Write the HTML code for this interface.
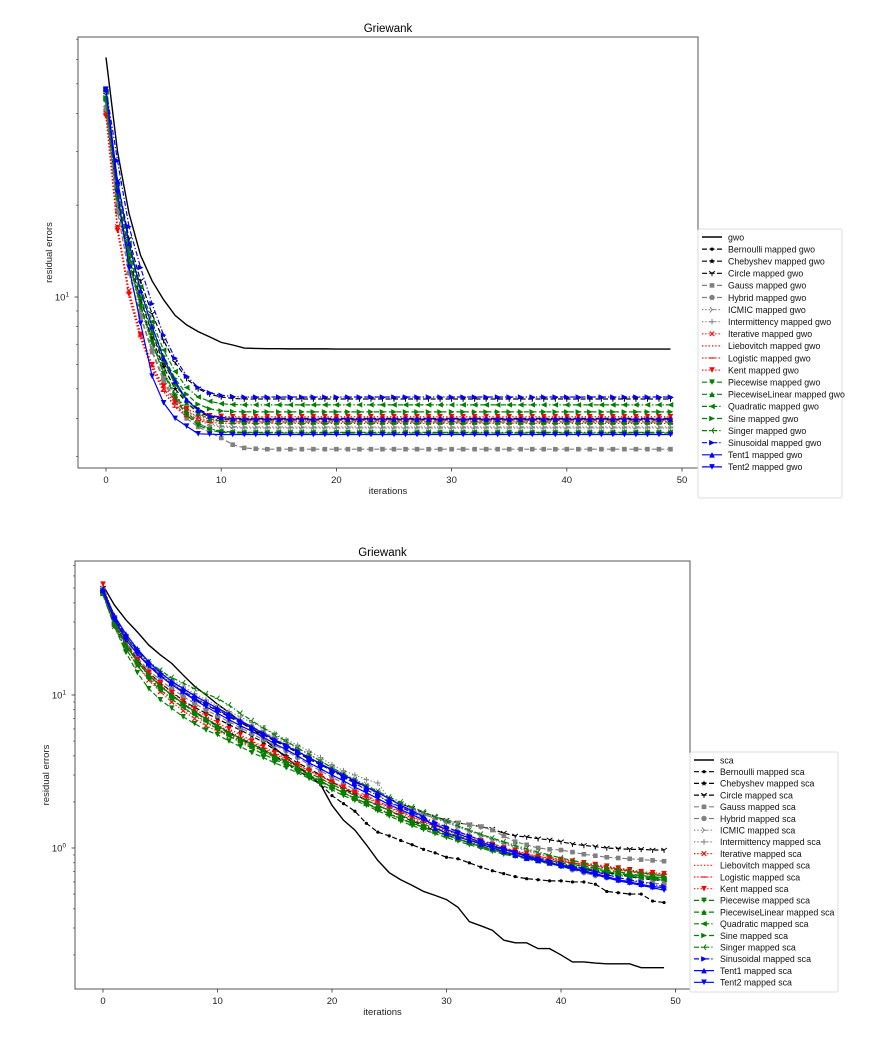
<!DOCTYPE html>
<html><head><meta charset="utf-8"><style>
html,body{margin:0;padding:0;background:#fff;}
svg{display:block;font-family:"Liberation Sans","DejaVu Sans",sans-serif;}
</style></head><body>
<svg id="fig" width="876" height="1048" viewBox="0 0 876 1048" xmlns="http://www.w3.org/2000/svg"></svg>
<script>
// ---------- shared data ----------
const iterations = Array.from({length:50},(_,i)=>i);
const seriesNames = ["Bernoulli","Chebyshev","Circle","Gauss","Hybrid","ICMIC","Intermittency","Iterative","Liebovitch","Logistic","Kent","Piecewise","PiecewiseLinear","Quadratic","Sine","Singer","Sinusoidal","Tent1","Tent2"];
const xTicks = [0,10,20,30,40,50];

// ---------- top chart (GWO) ----------
const gwoBase = [61,30,18.8,13.7,11.3,9.8,8.7,8.1,7.7,7.4,7.1,6.96,6.8,6.78,6.77,6.77,6.76,6.76,6.76,6.76,6.75,6.75,6.75,6.75,6.75,6.75,6.75,6.75,6.75,6.75,6.75,6.75,6.75,6.75,6.75,6.75,6.75,6.75,6.75,6.75,6.75,6.75,6.75,6.75,6.75,6.75,6.75,6.75,6.75,6.75];
const gwoBernoulli = [44,21,13.5,9.8,7.6,6.1,5.2,4.6,4.3,4.1,4.03,4,4,4,4,4,4,4,4,4,4,4,4,4,4,4,4,4,4,4,4,4,4,4,4,4,4,4,4,4,4,4,4,4,4,4,4,4,4,4];
const gwoChebyshev = [42,20,13,9.4,7.3,5.9,5,4.5,4.2,4.05,3.98,3.95,3.95,3.95,3.95,3.95,3.95,3.95,3.95,3.95,3.95,3.95,3.95,3.95,3.95,3.95,3.95,3.95,3.95,3.95,3.95,3.95,3.95,3.95,3.95,3.95,3.95,3.95,3.95,3.95,3.95,3.95,3.95,3.95,3.95,3.95,3.95,3.95,3.95,3.95];
const gwoCircle = [46,24,15.5,11.3,8.8,7.2,6.1,5.4,5,4.8,4.7,4.65,4.63,4.63,4.63,4.63,4.63,4.63,4.63,4.63,4.63,4.63,4.63,4.63,4.63,4.63,4.63,4.63,4.63,4.63,4.63,4.63,4.63,4.63,4.63,4.63,4.63,4.63,4.63,4.63,4.63,4.63,4.63,4.63,4.63,4.63,4.63,4.63,4.63,4.63];
const gwoGauss = [41,19,12,8.6,6.6,5.3,4.5,4,3.75,3.6,3.45,3.28,3.2,3.18,3.17,3.17,3.17,3.17,3.17,3.17,3.17,3.17,3.17,3.17,3.17,3.17,3.17,3.17,3.17,3.17,3.17,3.17,3.17,3.17,3.17,3.17,3.17,3.17,3.17,3.17,3.17,3.17,3.17,3.17,3.17,3.17,3.17,3.17,3.17,3.17];
const gwoHybrid = [41,19,12,8.7,6.7,5.4,4.6,4.1,3.85,3.7,3.62,3.59,3.58,3.58,3.58,3.58,3.58,3.58,3.58,3.58,3.58,3.58,3.58,3.58,3.58,3.58,3.58,3.58,3.58,3.58,3.58,3.58,3.58,3.58,3.58,3.58,3.58,3.58,3.58,3.58,3.58,3.58,3.58,3.58,3.58,3.58,3.58,3.58,3.58,3.58];
const gwoICMIC = [43,20.5,13,9.3,7.1,5.7,4.8,4.3,4,3.85,3.78,3.76,3.75,3.75,3.75,3.75,3.75,3.75,3.75,3.75,3.75,3.75,3.75,3.75,3.75,3.75,3.75,3.75,3.75,3.75,3.75,3.75,3.75,3.75,3.75,3.75,3.75,3.75,3.75,3.75,3.75,3.75,3.75,3.75,3.75,3.75,3.75,3.75,3.75,3.75];
const gwoIntermittency = [42,20,12.8,9.1,7,5.6,4.7,4.2,3.95,3.8,3.75,3.73,3.72,3.72,3.72,3.72,3.72,3.72,3.72,3.72,3.72,3.72,3.72,3.72,3.72,3.72,3.72,3.72,3.72,3.72,3.72,3.72,3.72,3.72,3.72,3.72,3.72,3.72,3.72,3.72,3.72,3.72,3.72,3.72,3.72,3.72,3.72,3.72,3.72,3.72];
const gwoIterative = [40,17,10.5,7.6,6,5,4.5,4.2,4.05,3.98,3.96,3.95,3.95,3.95,3.95,3.95,3.95,3.95,3.95,3.95,3.95,3.95,3.95,3.95,3.95,3.95,3.95,3.95,3.95,3.95,3.95,3.95,3.95,3.95,3.95,3.95,3.95,3.95,3.95,3.95,3.95,3.95,3.95,3.95,3.95,3.95,3.95,3.95,3.95,3.95];
const gwoLiebovitch = [39,16.5,10,7.3,5.8,4.9,4.4,4.1,3.98,3.93,3.91,3.9,3.9,3.9,3.9,3.9,3.9,3.9,3.9,3.9,3.9,3.9,3.9,3.9,3.9,3.9,3.9,3.9,3.9,3.9,3.9,3.9,3.9,3.9,3.9,3.9,3.9,3.9,3.9,3.9,3.9,3.9,3.9,3.9,3.9,3.9,3.9,3.9,3.9,3.9];
const gwoLogistic = [40,17,10.3,7.4,5.9,4.9,4.35,4.05,3.93,3.88,3.86,3.85,3.85,3.85,3.85,3.85,3.85,3.85,3.85,3.85,3.85,3.85,3.85,3.85,3.85,3.85,3.85,3.85,3.85,3.85,3.85,3.85,3.85,3.85,3.85,3.85,3.85,3.85,3.85,3.85,3.85,3.85,3.85,3.85,3.85,3.85,3.85,3.85,3.85,3.85];
const gwoKent = [39,16.5,10.2,7.5,6,5.1,4.6,4.3,4.15,4.08,4.06,4.05,4.05,4.05,4.05,4.05,4.05,4.05,4.05,4.05,4.05,4.05,4.05,4.05,4.05,4.05,4.05,4.05,4.05,4.05,4.05,4.05,4.05,4.05,4.05,4.05,4.05,4.05,4.05,4.05,4.05,4.05,4.05,4.05,4.05,4.05,4.05,4.05,4.05,4.05];
const gwoPiecewise = [44,21,13,9.3,7.1,5.6,4.7,4.1,3.8,3.66,3.6,3.58,3.58,3.58,3.58,3.58,3.58,3.58,3.58,3.58,3.58,3.58,3.58,3.58,3.58,3.58,3.58,3.58,3.58,3.58,3.58,3.58,3.58,3.58,3.58,3.58,3.58,3.58,3.58,3.58,3.58,3.58,3.58,3.58,3.58,3.58,3.58,3.58,3.58,3.58];
const gwoPiecewiseLinear = [45,22,14,10,7.7,6.2,5.2,4.5,4.15,3.98,3.92,3.9,3.89,3.89,3.89,3.89,3.89,3.89,3.89,3.89,3.89,3.89,3.89,3.89,3.89,3.89,3.89,3.89,3.89,3.89,3.89,3.89,3.89,3.89,3.89,3.89,3.89,3.89,3.89,3.89,3.89,3.89,3.89,3.89,3.89,3.89,3.89,3.89,3.89,3.89];
const gwoQuadratic = [47,23.5,15,10.8,8.3,6.7,5.7,5.05,4.7,4.55,4.47,4.44,4.43,4.43,4.43,4.43,4.43,4.43,4.43,4.43,4.43,4.43,4.43,4.43,4.43,4.43,4.43,4.43,4.43,4.43,4.43,4.43,4.43,4.43,4.43,4.43,4.43,4.43,4.43,4.43,4.43,4.43,4.43,4.43,4.43,4.43,4.43,4.43,4.43,4.43];
const gwoSine = [45,22.5,14.5,10.4,8,6.4,5.4,4.8,4.45,4.3,4.23,4.21,4.2,4.2,4.2,4.2,4.2,4.2,4.2,4.2,4.2,4.2,4.2,4.2,4.2,4.2,4.2,4.2,4.2,4.2,4.2,4.2,4.2,4.2,4.2,4.2,4.2,4.2,4.2,4.2,4.2,4.2,4.2,4.2,4.2,4.2,4.2,4.2,4.2,4.2];
const gwoSinger = [44,21,13.2,9.4,7.2,5.7,4.8,4.2,3.85,3.7,3.63,3.61,3.6,3.6,3.6,3.6,3.6,3.6,3.6,3.6,3.6,3.6,3.6,3.6,3.6,3.6,3.6,3.6,3.6,3.6,3.6,3.6,3.6,3.6,3.6,3.6,3.6,3.6,3.6,3.6,3.6,3.6,3.6,3.6,3.6,3.6,3.6,3.6,3.6,3.6];
const gwoSinusoidal = [48,28,17,12.5,9.5,7.5,6.3,5.5,5.05,4.85,4.76,4.72,4.7,4.7,4.7,4.7,4.7,4.7,4.7,4.7,4.7,4.7,4.7,4.7,4.7,4.7,4.7,4.7,4.7,4.7,4.7,4.7,4.7,4.7,4.7,4.7,4.7,4.7,4.7,4.7,4.7,4.7,4.7,4.7,4.7,4.7,4.7,4.7,4.7,4.7];
const gwoTent1 = [48,24,15,10.5,8,6.3,5.3,4.6,4.25,4.08,4.02,3.99,3.98,3.98,3.98,3.98,3.98,3.98,3.98,3.98,3.98,3.98,3.98,3.98,3.98,3.98,3.98,3.98,3.98,3.98,3.98,3.98,3.98,3.98,3.98,3.98,3.98,3.98,3.98,3.98,3.98,3.98,3.98,3.98,3.98,3.98,3.98,3.98,3.98,3.98];
const gwoTent2 = [48,22,12.5,8.2,5.5,4.5,4,3.77,3.56,3.55,3.54,3.54,3.54,3.54,3.54,3.54,3.54,3.54,3.54,3.54,3.54,3.54,3.54,3.54,3.54,3.54,3.54,3.54,3.54,3.54,3.54,3.54,3.54,3.54,3.54,3.54,3.54,3.54,3.54,3.54,3.54,3.54,3.54,3.54,3.54,3.54,3.54,3.54,3.54,3.54];

// ---------- bottom chart (SCA) ----------
const scaBase = [52,38.7,31,25.8,21.2,18.3,16.1,13.5,11.4,10,8.7,7.7,6.7,6.1,5.2,4.5,3.9,3.4,3,2.6,1.9,1.52,1.31,1.05,0.83,0.69,0.62,0.57,0.52,0.49,0.46,0.41,0.33,0.31,0.29,0.25,0.24,0.24,0.22,0.22,0.2,0.18,0.18,0.177,0.175,0.175,0.175,0.165,0.165,0.165];
const scaBernoulli = [47,29,21,16.5,13.5,11.5,10,8.8,7.8,7,6.3,5.7,5.2,4.8,4.4,4,3.6,3.2,2.9,2.6,2.2,1.95,1.74,1.45,1.27,1.2,1.12,1.05,0.98,0.93,0.87,0.85,0.8,0.75,0.71,0.68,0.65,0.63,0.62,0.61,0.61,0.6,0.6,0.58,0.52,0.51,0.5,0.5,0.45,0.44];
const scaChebyshev = [46,30,22,17,14,12,10.5,9.2,8.3,7.6,7,6.4,5.9,5.4,4.9,4.4,4,3.6,3.3,3,2.7,2.45,2.25,2.05,1.9,1.75,1.62,1.5,1.4,1.3,1.22,1.15,1.08,1.02,0.97,0.93,0.89,0.85,0.82,0.79,0.77,0.75,0.73,0.71,0.69,0.67,0.65,0.63,0.62,0.61];
const scaCircle = [50,32,24,19,15.5,13.3,11.7,10.4,9.4,8.6,7.9,7.2,6.6,6,5.5,5,4.6,4.2,3.8,3.5,3.2,2.95,2.7,2.5,2.3,2.1,1.95,1.82,1.7,1.6,1.52,1.46,1.42,1.38,1.33,1.25,1.2,1.18,1.15,1.13,1.1,1.06,1.04,1.02,1,0.99,0.98,0.98,0.97,0.97];
const scaGauss = [48,31,23.5,18.5,15.5,13.5,12,10.7,9.6,8.7,8,7.3,6.7,6.2,5.7,5.2,4.7,4.3,3.9,3.55,3.25,3,2.75,2.5,2.25,1.97,1.85,1.75,1.65,1.57,1.5,1.46,1.42,1.38,1.31,1.2,1.1,1.05,1,0.98,0.97,0.94,0.91,0.89,0.87,0.86,0.85,0.84,0.83,0.82];
const scaHybrid = [47,30,22.5,17.5,14.5,12.5,11,9.8,8.8,8,7.3,6.7,6.1,5.6,5.1,4.7,4.3,3.9,3.5,3.2,2.9,2.65,2.4,2.2,2.02,1.87,1.74,1.62,1.52,1.43,1.35,1.27,1.2,1.13,1.07,1.01,0.95,0.9,0.85,0.8,0.76,0.72,0.69,0.66,0.64,0.62,0.61,0.6,0.59,0.58];
const scaICMIC = [49,32,24,19,16,13.8,12.2,10.9,9.8,8.9,8.1,7.4,6.8,6.2,5.7,5.3,4.9,4.5,4.1,3.7,3.35,3.05,2.8,2.6,2.35,2.1,1.95,1.8,1.68,1.58,1.48,1.38,1.3,1.22,1.15,1.08,1.02,0.97,0.92,0.88,0.84,0.8,0.77,0.74,0.71,0.69,0.67,0.65,0.63,0.62];
const scaIntermittency = [50,33,25,20,16.5,14.3,12.7,11.3,10.2,9.3,8.5,7.8,7.2,6.6,6.1,5.6,5.1,4.7,4.3,3.9,3.5,3.2,3,2.8,2.66,2.1,1.92,1.78,1.66,1.56,1.46,1.37,1.29,1.21,1.14,1.07,1.01,0.96,0.91,0.87,0.83,0.79,0.76,0.73,0.7,0.68,0.66,0.64,0.62,0.61];
const scaIterative = [46,28,20,15.5,12.5,10.5,9,7.9,7,6.3,5.8,5.4,5,4.6,4.3,3.9,3.6,3.3,3,2.75,2.5,2.3,2.1,1.95,1.8,1.67,1.55,1.45,1.36,1.28,1.21,1.15,1.09,1.04,0.99,0.95,0.91,0.88,0.85,0.83,0.81,0.8,0.78,0.77,0.75,0.73,0.71,0.69,0.67,0.66];
const scaLiebovitch = [47,29,21,16.5,13.2,11,9.4,8.2,7.3,6.6,6,5.5,5.1,4.7,4.3,4,3.7,3.4,3.1,2.85,2.6,2.4,2.2,2.05,1.9,1.76,1.63,1.52,1.42,1.34,1.26,1.19,1.13,1.07,1.02,0.98,0.94,0.9,0.87,0.84,0.82,0.8,0.78,0.76,0.74,0.72,0.7,0.68,0.67,0.66];
const scaLogistic = [48,30,22,17,13.8,11.6,10,8.8,7.8,7,6.4,5.8,5.3,4.9,4.5,4.1,3.8,3.5,3.2,2.95,2.7,2.5,2.3,2.12,1.96,1.82,1.69,1.57,1.47,1.38,1.3,1.22,1.15,1.09,1.04,0.99,0.95,0.91,0.88,0.85,0.82,0.8,0.78,0.76,0.74,0.72,0.7,0.69,0.68,0.67];
const scaKent = [53,31,22,17,14,12,10.4,9.1,8.1,7.3,6.6,6,5.5,5,4.6,4.2,3.85,3.5,3.2,2.95,2.7,2.5,2.3,2.15,2,1.85,1.72,1.6,1.5,1.4,1.32,1.24,1.17,1.11,1.05,1,0.96,0.92,0.88,0.86,0.84,0.82,0.8,0.78,0.76,0.74,0.72,0.7,0.69,0.68];
const scaPiecewise = [46,28,19,14,11,9.3,8.2,7.2,6.5,5.9,5.5,5,4.6,4.2,3.9,3.6,3.35,3.1,2.85,2.6,2.4,2.2,2.05,1.9,1.75,1.62,1.5,1.4,1.32,1.24,1.17,1.11,1.05,1,0.95,0.91,0.88,0.85,0.82,0.8,0.78,0.76,0.74,0.72,0.7,0.68,0.66,0.65,0.64,0.63];
const scaPiecewiseLinear = [49,30,21.5,16.5,13.5,11.5,10,8.8,7.8,7,6.3,5.7,5.2,4.8,4.4,4,3.7,3.4,3.1,2.85,2.6,2.4,2.2,2.05,1.9,1.76,1.64,1.53,1.43,1.35,1.27,1.2,1.13,1.07,1.02,0.97,0.93,0.89,0.86,0.83,0.8,0.78,0.76,0.74,0.72,0.7,0.68,0.66,0.65,0.64];
const scaQuadratic = [45,28,20,15.5,12.8,10.8,9.4,8.3,7.4,6.7,6,5.4,4.9,4.5,4.1,3.8,3.5,3.2,2.95,2.7,2.5,2.3,2.12,1.96,1.82,1.68,1.56,1.46,1.37,1.29,1.21,1.14,1.08,1.02,0.97,0.93,0.89,0.85,0.82,0.79,0.76,0.74,0.72,0.7,0.68,0.66,0.65,0.64,0.63,0.62];
const scaSine = [46,29,21,16.5,13.5,11.4,9.9,8.7,7.7,6.9,6.2,5.6,5.1,4.7,4.3,3.9,3.6,3.3,3,2.75,2.5,2.3,2.1,1.95,1.8,1.67,1.55,1.45,1.36,1.28,1.21,1.14,1.08,1.03,0.98,0.94,0.9,0.86,0.83,0.8,0.78,0.76,0.74,0.72,0.7,0.68,0.67,0.66,0.65,0.64];
const scaSinger = [47,31,24,19.5,16.5,14.5,13,12,11,10.2,9.5,8.6,7.6,6.8,6.1,5.5,5,4.5,4.1,3.7,3.35,3.05,2.8,2.55,2.35,2.15,2,1.85,1.72,1.6,1.5,1.4,1.31,1.23,1.16,1.1,1.04,0.99,0.94,0.9,0.86,0.83,0.8,0.77,0.75,0.73,0.71,0.69,0.67,0.66];
const scaSinusoidal = [48,32,24,19.5,16,13.5,11.8,10.5,9.5,8.7,8,7.3,6.7,6.1,5.6,5.1,4.7,4.3,3.9,3.55,3.2,2.9,2.65,2.4,2.2,2,1.85,1.7,1.58,1.47,1.37,1.28,1.2,1.12,1.05,0.99,0.94,0.89,0.85,0.82,0.79,0.76,0.73,0.7,0.67,0.64,0.62,0.6,0.58,0.56];
const scaTent1 = [49,33,25,20,16.5,14,12.3,11,9.9,9,8.2,7.5,6.8,6.2,5.6,5.1,4.65,4.25,3.9,3.55,3.25,3,2.75,2.5,2.3,2.1,1.9,1.75,1.6,1.35,1.25,1.18,1.12,1.06,1,0.95,0.9,0.86,0.83,0.8,0.77,0.74,0.71,0.68,0.65,0.62,0.6,0.58,0.56,0.55];
const scaTent2 = [47,31,23,18.5,15.5,13.3,11.7,10.4,9.3,8.4,7.6,6.9,6.3,5.8,5.3,4.8,4.4,4,3.6,3.3,3,2.75,2.5,2.3,2.1,1.92,1.78,1.65,1.53,1.42,1.32,1.24,1.16,1.09,1.03,0.98,0.93,0.88,0.84,0.8,0.76,0.73,0.7,0.67,0.64,0.61,0.59,0.57,0.55,0.53];

const gwoSeries = [gwoBernoulli,gwoChebyshev,gwoCircle,gwoGauss,gwoHybrid,gwoICMIC,gwoIntermittency,gwoIterative,gwoLiebovitch,gwoLogistic,gwoKent,gwoPiecewise,gwoPiecewiseLinear,gwoQuadratic,gwoSine,gwoSinger,gwoSinusoidal,gwoTent1,gwoTent2];
const scaSeries = [scaBernoulli,scaChebyshev,scaCircle,scaGauss,scaHybrid,scaICMIC,scaIntermittency,scaIterative,scaLiebovitch,scaLogistic,scaKent,scaPiecewise,scaPiecewiseLinear,scaQuadratic,scaSine,scaSinger,scaSinusoidal,scaTent1,scaTent2];

// ---------- styles ----------
const K='#000',G='#808080',R='#ff0000',GR='#008000',B='#0000ff';
const styles = [
 {c:K,d:'dash',m:'dot'},{c:K,d:'dash',m:'star'},{c:K,d:'dash',m:'tri1'},
 {c:G,d:'dash',m:'square'},{c:G,d:'dash',m:'circle'},{c:G,d:'dot',m:'tri4'},
 {c:G,d:'dot',m:'plus'},{c:R,d:'dot',m:'x'},{c:R,d:'dot',m:'none'},
 {c:R,d:'dot',m:'hline'},{c:R,d:'dot',m:'vdown'},{c:GR,d:'dash',m:'vdown'},
 {c:GR,d:'dash',m:'vup'},{c:GR,d:'dashdot',m:'vleft'},{c:GR,d:'dash',m:'vright'},
 {c:GR,d:'dashdot',m:'tri3'},{c:B,d:'dashdot',m:'vright'},{c:B,d:'solid',m:'vup'},
 {c:B,d:'solid',m:'vdown'}
];
const dashMap = {solid:'',dash:'5,2.5',dot:'1.3,2',dashdot:'5,2,1.3,2'};
const NS='http://www.w3.org/2000/svg';
const svg=document.getElementById('fig');
function el(tag,attrs,parent){const e=document.createElementNS(NS,tag);for(const k in attrs)e.setAttribute(k,attrs[k]);(parent||svg).appendChild(e);return e;}

function marker(g,type,x,y,c){
  const s=2.8;
  let e=null;
  if(type==='dot') e=el('circle',{cx:x,cy:y,r:1.6,fill:c},g);
  else if(type==='circle') e=el('circle',{cx:x,cy:y,r:2.5,fill:c,stroke:c,'stroke-width':0.5},g);
  else if(type==='square') e=el('rect',{x:x-2.3,y:y-2.3,width:4.6,height:4.6,fill:c},g);
  else if(type==='star'){let p=[];for(let i=0;i<10;i++){const r=i%2?1.3:3.0,a=-Math.PI/2+i*Math.PI/5;p.push((x+r*Math.cos(a)).toFixed(1)+','+(y+r*Math.sin(a)).toFixed(1));}e=el('polygon',{points:p.join(' '),fill:c},g);}
  else if(type==='vdown') e=el('polygon',{points:`${x-s},${y-s} ${x+s},${y-s} ${x},${y+s}`,fill:c},g);
  else if(type==='vup') e=el('polygon',{points:`${x-s},${y+s} ${x+s},${y+s} ${x},${y-s}`,fill:c},g);
  else if(type==='vleft') e=el('polygon',{points:`${x+s},${y-s} ${x+s},${y+s} ${x-s},${y}`,fill:c},g);
  else if(type==='vright') e=el('polygon',{points:`${x-s},${y-s} ${x-s},${y+s} ${x+s},${y}`,fill:c},g);
  else if(type==='plus') e=el('path',{d:`M${x-s} ${y}H${x+s}M${x} ${y-s}V${y+s}`,stroke:c,'stroke-width':1,fill:'none'},g);
  else if(type==='x') e=el('path',{d:`M${x-2.3} ${y-2.3}L${x+2.3} ${y+2.3}M${x-2.3} ${y+2.3}L${x+2.3} ${y-2.3}`,stroke:c,'stroke-width':1.1,fill:'none'},g);
  else if(type==='hline') e=el('path',{d:`M${x-s} ${y}H${x+s}`,stroke:c,'stroke-width':1.1,fill:'none'},g);
  else if(type==='tri1') e=el('path',{d:`M${x} ${y}V${y+s}M${x} ${y}L${x-s} ${y-2}M${x} ${y}L${x+s} ${y-2}`,stroke:c,'stroke-width':1,fill:'none'},g);
  else if(type==='tri4') e=el('path',{d:`M${x} ${y}H${x+s}M${x} ${y}L${x-2} ${y-s}M${x} ${y}L${x-2} ${y+s}`,stroke:c,'stroke-width':1,fill:'none'},g);
  else if(type==='tri3') e=el('path',{d:`M${x} ${y}H${x-s}M${x} ${y}L${x+2} ${y-s}M${x} ${y}L${x+2} ${y+s}`,stroke:c,'stroke-width':1,fill:'none'},g);
  return e;
}

function drawChart(cfg){
  const {L,T,Rt,Bt,x0px,xUnit,refY,decade,refExp,title,base,baseName,series,suffix,leg,yLabels,minorRange,chartName}=cfg;
  const g=el('g',{});
  
  
  const xs=v=>x0px+v*xUnit;
  const ys=v=>refY-(Math.log10(v)-refExp)*decade;
  const t=el('text',{x:(L+Rt)/2,y:T-5,'text-anchor':'middle','font-size':11.5,fill:'#000'},g);t.textContent=title;
  
  
  const cid='clip'+chartName;
  const cp=el('clipPath',{id:cid},g);el('rect',{x:L,y:T,width:Rt-L,height:Bt-T},cp);
  const plot=el('g',{'clip-path':`url(#${cid})`},g);
  
  
  const all=[{data:base,st:{c:K,d:'solid',m:'none'},name:baseName}].concat(series.map((s,i)=>({data:s,st:styles[i],name:seriesNames[i]+' mapped '+suffix})));
  all.forEach((s,si)=>{
    const sg=el('g',{},plot);
    
    
    const pts=s.data.map((v,i)=>xs(iterations[i]).toFixed(2)+','+ys(v).toFixed(2)).join(' ');
    el('polyline',{points:pts,fill:'none',stroke:s.st.c,'stroke-width':si===0?1.4:1.2,'stroke-dasharray':dashMap[s.st.d]},sg);
    if(s.st.m!=='none') s.data.forEach((v,i)=>marker(sg,s.st.m,xs(iterations[i]),ys(v),s.st.c));
  });
  const fr=el('rect',{x:L,y:T,width:Rt-L,height:Bt-T,fill:'none',stroke:'#555','stroke-width':1},g);
  
  
  xTicks.forEach(v=>{
    const x=xs(v);
    el('line',{x1:x,x2:x,y1:Bt,y2:Bt+3.5,stroke:'#333','stroke-width':0.8},g);
    const tl=el('text',{x:x,y:Bt+15,'text-anchor':'middle','font-size':9.5,fill:'#222'},g);tl.textContent=v;
    
    
  });
  const xl=el('text',{x:(L+Rt)/2,y:Bt+26,'text-anchor':'middle','font-size':9.5,fill:'#222'},g);xl.textContent='iterations';
  
  
  for(let e=minorRange[0];e<=minorRange[1];e++){
    for(let m=2;m<=9;m++){const y=ys(m*Math.pow(10,e));if(y>T&&y<Bt)el('line',{x1:L-2,x2:L,y1:y,y2:y,stroke:'#333','stroke-width':0.6},g);}
  }
  yLabels.forEach(e=>{
    const y=ys(Math.pow(10,e));
    el('line',{x1:L-3.5,x2:L,y1:y,y2:y,stroke:'#333','stroke-width':0.8},g);
    const tl=el('text',{x:L-16,y:y+3.5,'text-anchor':'middle','font-size':9.5,fill:'#222'},g);
    
    
    const a=el('tspan',{},tl);a.textContent='10';
    const b=el('tspan',{dy:-4,'font-size':6.5},tl);b.textContent=String(e);
  });
  const yl=el('text',{x:0,y:0,'text-anchor':'middle','font-size':9.5,fill:'#222',transform:`translate(${L-26},${(T+Bt)/2}) rotate(-90)`},g);yl.textContent='residual errors';
  
  
  const lg=el('g',{},g);
  
  
  el('rect',{x:leg.x,y:leg.y,width:leg.w,height:leg.h,fill:'#fff','fill-opacity':0.85,stroke:'#ddd','stroke-width':1,rx:2},lg);
  all.forEach((s,i)=>{
    const y=leg.y+leg.first+i*leg.step;
    const eg=el('g',{},lg);
    
    
    el('line',{x1:leg.x+4,x2:leg.x+24,y1:y,y2:y,stroke:s.st.c,'stroke-width':i===0?1.4:1.2,'stroke-dasharray':dashMap[s.st.d]},eg);
    if(s.st.m!=='none') marker(eg,s.st.m,leg.x+14,y,s.st.c);
    const tt=el('text',{x:leg.x+30,y:y+3.3,'font-size':8.8,fill:'#111'},eg);tt.textContent=s.name;
  });
}

drawChart({chartName:'gwo-chart',L:78,T:37,Rt:698,Bt:468,x0px:106,xUnit:11.52,refY:297,decade:305,refExp:1,
  title:'Griewank',base:gwoBase,baseName:'gwo',series:gwoSeries,suffix:'gwo',yLabels:[1],minorRange:[0,1],
  leg:{x:698,y:229,w:144,h:269,first:8,step:12.1}});
drawChart({chartName:'sca-chart',L:75,T:561,Rt:690,Bt:989,x0px:103,xUnit:11.45,refY:695,decade:153,refExp:1,
  title:'Griewank',base:scaBase,baseName:'sca',series:scaSeries,suffix:'sca',yLabels:[1,0],minorRange:[-1,1],
  leg:{x:690,y:752,w:148,h:240,first:8,step:11.7}});
</script>
</body></html>
